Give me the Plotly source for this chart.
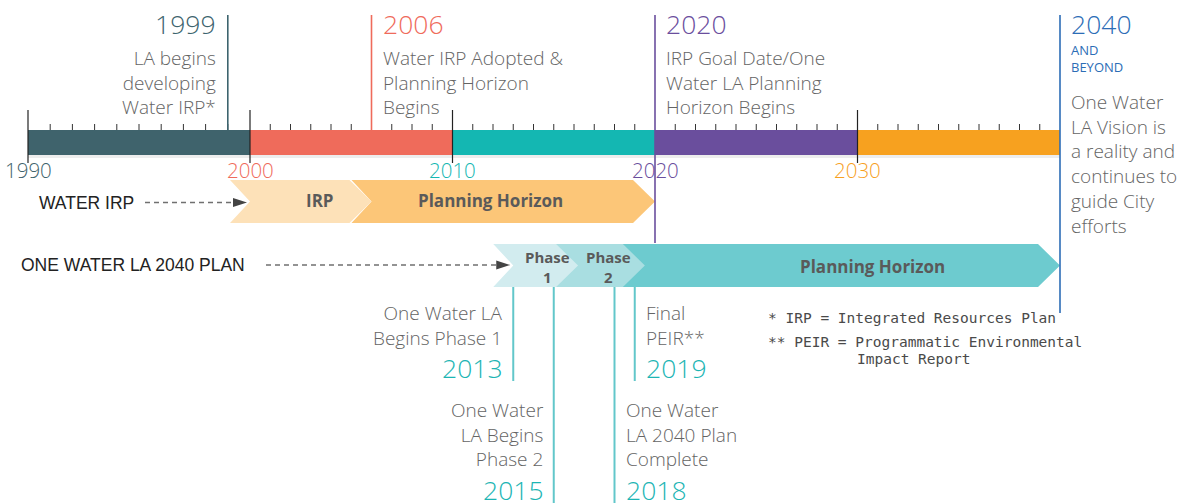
import plotly.graph_objects as go

W, H = 1194, 503

# ---------------- data ----------------
decade_starts = [1990, 2000, 2010, 2020, 2030]
decade_ends = [2000, 2010, 2020, 2030, 2040]
decade_labels = ["1990", "2000", "2010", "2020", "2030"]
decade_colors = ["#3f636c", "#ef6b5b", "#14b7b2", "#6a4e9d", "#f7a11f"]
major_tick_years = [1990, 2000, 2010, 2030]
tick_years = list(range(1990, 2041))

event_years = [1999, 2006, 2020, 2040]
event_titles = ["1999", "2006", "2020", "2040"]
event_subtitles = ["", "", "", "AND<br>BEYOND"]
event_texts = [
    "LA begins<br>developing<br>Water IRP*",
    "Water IRP Adopted &<br>Planning Horizon<br>Begins",
    "IRP Goal Date/One<br>Water LA Planning<br>Horizon Begins",
    "One Water<br>LA Vision is<br>a reality and<br>continues to<br>guide City<br>efforts",
]
event_colors = ["#3d646e", "#ef6b5b", "#6a4e9d", "#2c6db6"]

irp_name = "WATER IRP"
irp_labels = ["IRP", "Planning Horizon"]
irp_starts = [2000, 2006]
irp_ends = [2006, 2020]
irp_colors = ["#fde1b8", "#fcc678"]

owla_name = "ONE WATER LA 2040 PLAN"
owla_labels = ["Phase<br>1", "Phase<br>2", "Planning Horizon"]
owla_starts = [2013, 2015, 2018]
owla_ends = [2016.2, 2019.5, 2040]
owla_colors = ["#d2ecef", "#a9dee1", "#6dcbcf"]

milestone_years = [2013, 2015, 2018, 2019]
milestone_titles = ["2013", "2015", "2018", "2019"]
milestone_texts = [
    "One Water LA<br>Begins Phase 1",
    "One Water<br>LA Begins<br>Phase 2",
    "One Water<br>LA 2040 Plan<br>Complete",
    "Final<br>PEIR**",
]

footnotes = ["* IRP = Integrated Resources Plan",
             "** PEIR = Programmatic Environmental",
             "Impact Report"]

# ---------------- layout constants ----------------
FONT = "Open Sans"
LABEL_FONT = "Liberation Sans"
MONO = "DejaVu Sans Mono"
GRAY = "#646464"
TEAL_TXT = "#1cb5b4"
LINE_TEAL = "#62c7ca"
BODY = 19
BIG = 26.5

PX_PER_YR2 = 20.25                      # 2000-2040 scale
X2_RANGE = [2000 - 250 / PX_PER_YR2, 2000 + (W - 250) / PX_PER_YR2]
X1_DOMAIN_END = 250 / W                  # first decade drawn a bit wider
X1_RANGE = [1990 - 28 / 22.2, 2000]


def xr(year):
    return "x" if year < 2000 else "x2"


def px2yr(px):
    return X2_RANGE[0] + px / PX_PER_YR2


def d2(px):
    return px / PX_PER_YR2


BAR_TOP, BAR_BOT = 130, 155

shapes = []
ann = []


def add_text(text, xref, x, xshift, y, anchor, font):
    ann.append(dict(xref=xref, yref="y", x=x, xshift=xshift, y=y, text=text,
                    showarrow=False, xanchor=anchor, yanchor="middle", align=anchor,
                    font=font))


# timeline bar
for s, e, c in zip(decade_starts, decade_ends, decade_colors):
    shapes.append(dict(type="rect", xref=xr(s), yref="y", x0=s, x1=e, y0=BAR_TOP, y1=BAR_BOT,
                       fillcolor=c, line=dict(width=0)))
shapes.append(dict(type="rect", xref="x2", yref="y", x0=2000, x1=2040, y0=BAR_BOT, y1=BAR_BOT + 3,
                   fillcolor="rgba(0,0,0,0.07)", line=dict(width=0)))
shapes.append(dict(type="rect", xref="x", yref="y", x0=1990, x1=2000, y0=BAR_BOT, y1=BAR_BOT + 3,
                   fillcolor="rgba(0,0,0,0.07)", line=dict(width=0)))

# ticks
for t in tick_years:
    if t in major_tick_years:
        shapes.append(dict(type="line", xref=xr(t), yref="y", x0=t, x1=t, y0=110, y1=163,
                           line=dict(color="#222222", width=1.2)))
    elif t not in (2020, 2040):
        shapes.append(dict(type="line", xref=xr(t), yref="y", x0=t, x1=t, y0=124, y1=BAR_TOP,
                           line=dict(color="#333333", width=1)))

# decade labels
for s, lab, c in zip(decade_starts, decade_labels, decade_colors):
    add_text(lab, xr(s), s, 0, 170, "center",
             dict(family=FONT, size=20.5, color=c, weight=300))


# chevrons
def chevron(x0, x1, y0, y1, xref, color):
    notch = d2(20)
    tip = d2(22)
    ym = (y0 + y1) / 2
    path = (f"M {x0 - notch},{y0} L {x1 - tip},{y0} L {x1},{ym} L {x1 - tip},{y1} "
            f"L {x0 - notch},{y1} L {x0},{ym} Z")
    return dict(type="path", xref=xref, yref="y", path=path, fillcolor=color,
                line=dict(width=0))


IRP_Y = (180, 223)
OWLA_Y = (244, 287)
for s, e, c in reversed(list(zip(irp_starts, irp_ends, irp_colors))):
    shapes.append(chevron(s, e, IRP_Y[0], IRP_Y[1], "x2", c))
for s, e, c in reversed(list(zip(owla_starts, owla_ends, owla_colors))):
    shapes.append(chevron(s, e, OWLA_Y[0], OWLA_Y[1], "x2", c))

CHEV_FONT = dict(family=FONT, size=17, color="#5a5a5a", weight=700)
PHASE_FONT = dict(family=FONT, size=15, color="#5a5a5a", weight=700)

irp_shift = [9, -23]
for s, e, lab, sh in zip(irp_starts, irp_ends, irp_labels, irp_shift):
    add_text(lab, "x2", (s + e) / 2, sh, sum(IRP_Y) / 2 - 1, "center", CHEV_FONT)

owla_shift = [2, 9, 35]
for s, e, lab, sh in zip(owla_starts, owla_ends, owla_labels, owla_shift):
    multi = "<br>" in lab
    add_text(lab, "x2", (s + e) / 2, sh, sum(OWLA_Y) / 2 + 1, "center",
             PHASE_FONT if multi else CHEV_FONT)


# row labels with dashed arrows
def row_arrow(name, label_left_px, start_px, target_year, y):
    ann.append(dict(xref="paper", yref="y", x=label_left_px / W, y=y, text=name, showarrow=False,
                    xanchor="left", yanchor="middle",
                    font=dict(family=LABEL_FONT, size=17.5, color="#222222")))
    tip_x = target_year - d2(3)
    shapes.append(dict(type="line", xref="x2", yref="y", x0=px2yr(start_px), x1=tip_x - d2(12),
                       y0=y, y1=y, line=dict(color="#707070", width=1.3, dash="5px,4px")))
    shapes.append(dict(type="path", xref="x2", yref="y",
                       path=f"M {tip_x - d2(14)},{y - 4.5} L {tip_x},{y} L {tip_x - d2(14)},{y + 4.5} Z",
                       fillcolor="#444444", line=dict(width=0)))


row_arrow(irp_name, 37, 145, irp_starts[0], sum(IRP_Y) / 2 + 1)
row_arrow(owla_name, 19, 266, owla_starts[0], sum(OWLA_Y) / 2 - 0.5)

# events
event_line_bottom = [BAR_TOP, BAR_TOP, 243, 313]
for yr, title, sub, txt, col, yb in zip(event_years, event_titles, event_subtitles, event_texts,
                                        event_colors, event_line_bottom):
    ref = xr(yr)
    shapes.append(dict(type="line", xref=ref, yref="y", x0=yr, x1=yr, y0=15, y1=yb,
                       line=dict(color=col, width=1.6)))
    right = yr < 2000
    anchor = "right" if right else "left"
    sh = -10 if right else 9
    add_text(title, ref, yr, sh, 24, anchor,
             dict(family=FONT, size=BIG, color=col, weight=300))
    if sub:
        add_text(sub, ref, yr, sh, 58, anchor,
                 dict(family=FONT, size=13, color=col, weight=400))
        ycen = 163.5
    else:
        ycen = 82
    add_text(txt, ref, yr, sh, ycen, anchor,
             dict(family=FONT, size=BODY, color=GRAY, weight=300))

# milestones below the One Water LA plan
ms_row = {2013: 0, 2019: 0, 2015: 1, 2018: 1}
row_text_center = [325, 434.5]
row_title_y = [368, 490]
row_line_bottom = [381, 503]
for yr, title, txt in zip(milestone_years, milestone_titles, milestone_texts):
    r = ms_row[yr]
    shapes.append(dict(type="line", xref="x2", yref="y", x0=yr, x1=yr, y0=OWLA_Y[1],
                       y1=row_line_bottom[r], line=dict(color=LINE_TEAL, width=2)))
    right = yr in (2013, 2015)
    anchor = "right" if right else "left"
    sh = -8 if right else 9
    add_text(txt, "x2", yr, sh, row_text_center[r], anchor,
             dict(family=FONT, size=BODY, color=GRAY, weight=300))
    add_text(title, "x2", yr, sh, row_title_y[r], anchor,
             dict(family=FONT, size=BIG, color=TEAL_TXT, weight=300))

# footnotes
foot_pos = [(766, 318), (766, 342), (855, 359)]
for txt, (px, py) in zip(footnotes, foot_pos):
    ann.append(dict(xref="paper", yref="y", x=px / W, y=py, text=txt, showarrow=False,
                    xanchor="left", yanchor="middle",
                    font=dict(family=MONO, size=14.5, color="#4a4a4a")))

fig = go.Figure()
fig.add_trace(go.Scatter(x=[1990, 2000], y=[0, 0], xaxis="x", yaxis="y", mode="markers",
                         marker=dict(opacity=0), hoverinfo="skip", showlegend=False))
fig.add_trace(go.Scatter(x=[2000, 2040], y=[0, 0], xaxis="x2", yaxis="y", mode="markers",
                         marker=dict(opacity=0), hoverinfo="skip", showlegend=False))

fig.update_layout(
    width=W, height=H,
    margin=dict(l=0, r=0, t=0, b=0),
    paper_bgcolor="white", plot_bgcolor="rgba(0,0,0,0)",
    showlegend=False,
    xaxis=dict(domain=[0, X1_DOMAIN_END], range=X1_RANGE, visible=False, fixedrange=True),
    xaxis2=dict(domain=[0, 1], range=X2_RANGE, visible=False, anchor="y", fixedrange=True),
    yaxis=dict(domain=[0, 1], range=[H, 0], visible=False, fixedrange=True),
    shapes=shapes,
    annotations=ann,
)

fig.write_html("out.html", config={"displayModeBar": False},
               post_script="document.body.style.margin='0';document.body.style.overflow='hidden';")
